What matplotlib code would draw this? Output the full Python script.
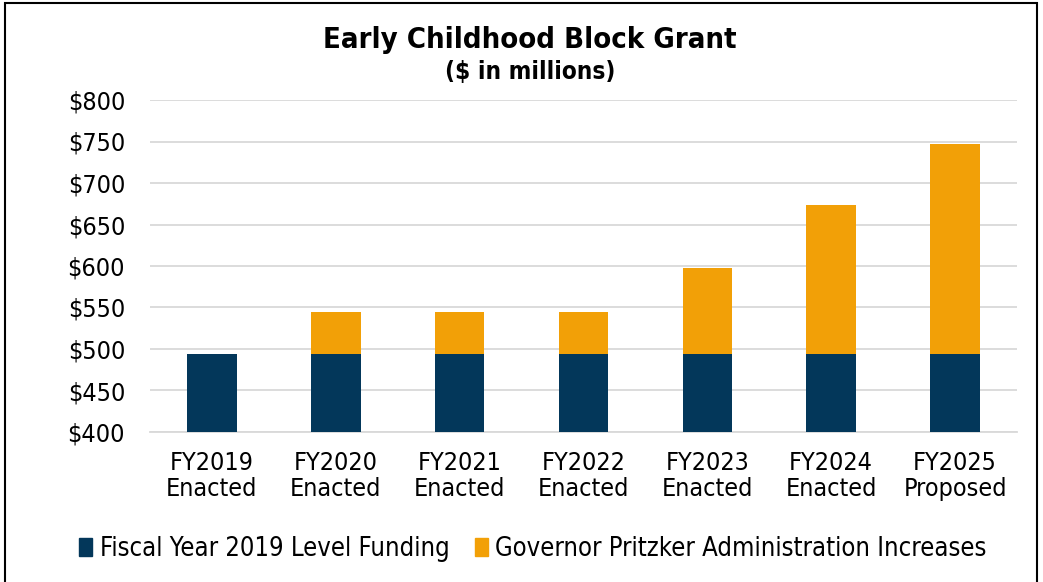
import matplotlib
matplotlib.use("Agg")
import matplotlib.pyplot as plt
from matplotlib.patches import Rectangle, Patch
import numpy as np

# values ($ in millions)
categories = ["FY2019\nEnacted", "FY2020\nEnacted", "FY2021\nEnacted", "FY2022\nEnacted",
              "FY2023\nEnacted", "FY2024\nEnacted", "FY2025\nProposed"]
base_funding = [494, 494, 494, 494, 494, 494, 494]
increases = [0, 50, 50, 50, 104, 179, 253]
y_ticks = [400, 450, 500, 550, 600, 650, 700, 750, 800]

navy = "#03375A"
orange = "#F2A007"
plt.rcParams["font.family"] = ["DejaVu Sans"]
plt.rcParams["font.stretch"] = "condensed"

fig = plt.figure(figsize=(10.43, 5.82), dpi=100)
ax = fig.add_axes([150 / 1043, 1 - 432 / 582, 867 / 1043, 332 / 582])

# thin frame round the whole figure
fig.patches.append(Rectangle((5 / 1043, -0.01), 1032 / 1043, 1 - 3 / 582 + 0.01,
                             transform=fig.transFigure, fill=False,
                             edgecolor="black", linewidth=1.5))

x = np.arange(len(categories))
ax.bar(x, base_funding, width=0.4, color=navy, zorder=3,
       label="Fiscal Year 2019 Level Funding")
ax.bar(x, increases, width=0.4, bottom=base_funding, color=orange, zorder=3,
       label="Governor Pritzker Administration Increases")

ax.set_xlim(-0.5, len(categories) - 0.5)
ax.set_ylim(400, 800)
ax.set_yticks(y_ticks)
ax.set_yticklabels([f"${v}" for v in y_ticks], fontsize=18)
ax.set_xticks(x)
ax.set_xticklabels(categories, fontsize=18, linespacing=1.1)
ax.tick_params(length=0)
ax.tick_params(axis="x", pad=14)
ax.tick_params(axis="y", pad=18)
ax.grid(axis="y", color="#d9d9d9", linewidth=1.3, zorder=0)
for s in ["top", "right", "left"]:
    ax.spines[s].set_visible(False)
ax.spines["bottom"].set_color("#d9d9d9")
ax.spines["bottom"].set_linewidth(1.3)

fig.text(0.508, 1 - 40 / 582, "Early Childhood Block Grant", ha="center", va="center",
         fontsize=21, fontweight="bold")
fig.text(0.508, 1 - 72 / 582, "($ in millions)", ha="center", va="center",
         fontsize=17.5, fontweight="bold")

handles = [Patch(color=navy), Patch(color=orange)]
fig.legend(handles, ["Fiscal Year 2019 Level Funding", "Governor Pritzker Administration Increases"],
           loc="center", bbox_to_anchor=(0.511, 1 - 549 / 582), ncol=2, frameon=False,
           fontsize=18.4, handlelength=0.5, handleheight=0.7, handletextpad=0.3,
           columnspacing=1.0)

fig.savefig("out.png", dpi=100)
